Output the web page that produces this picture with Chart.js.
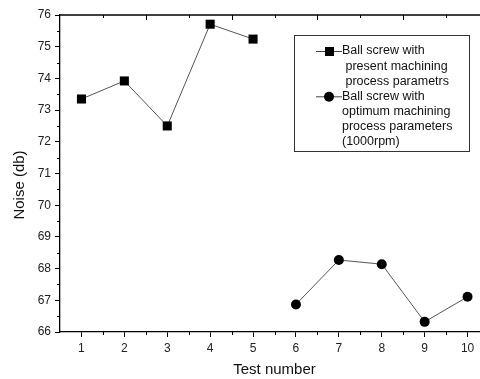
<!DOCTYPE html>
<html>
<head>
<meta charset="utf-8">
<script src="https://cdn.jsdelivr.net/npm/chart.js@4/dist/chart.umd.min.js"></script>
<style>
  html, body { margin: 0; padding: 0; background: #fff; overflow: hidden; }
  #wrap { width: 500px; height: 379px; }
</style>
</head>
<body>
<div id="wrap"><canvas id="chart" width="500" height="379"></canvas></div>
<script>
// data
var presentTests = [1, 2, 3, 4, 5];
var presentNoise = [73.35, 73.92, 72.50, 75.71, 75.24];
var optimumTests = [6, 7, 8, 9, 10];
var optimumNoise = [66.87, 68.27, 68.14, 66.32, 67.11];
var legendPresent = ['Ball screw with', ' present machining', ' process parametrs'];
var legendOptimum = ['Ball screw with', 'optimum machining', 'process parameters', '(1000rpm)'];
var yTitle = 'Noise (db)';

function toPoints(xs, ys) {
  var pts = [];
  for (var i = 0; i < xs.length; i++) {
    pts.push({x: xs[i], y: ys[i]});
  }
  return pts;
}

var FONT = '"Liberation Sans", Arial, sans-serif';

// minor ticks, top frame, y title and the legend box
var extras = {
  id: 'extras',
  afterDraw: function (chart) {
    var ctx = chart.ctx;
    var xs = chart.scales.x, ys = chart.scales.y;
    var a = chart.chartArea;
    ctx.save();
    ctx.strokeStyle = '#000';
    ctx.lineWidth = 1.3;
    // top frame line
    ctx.beginPath();
    ctx.moveTo(a.left, a.top);
    ctx.lineTo(a.right, a.top);
    ctx.stroke();
    ctx.lineWidth = 1;
    ctx.beginPath();
    // bottom minor ticks
    for (var v = 1.5; v < 10.5; v += 1) {
      var px = Math.round(xs.getPixelForValue(v)) + 0.5;
      ctx.moveTo(px, a.bottom);
      ctx.lineTo(px, a.bottom + 3);
    }
    // left minor ticks
    for (var w = 66.5; w < 76; w += 1) {
      var py = Math.round(ys.getPixelForValue(w)) + 0.5;
      ctx.moveTo(a.left, py);
      ctx.lineTo(a.left - 3, py);
    }
    // top ticks
    for (var t = 1.5; t < 10.5; t += 1) {
      var tx = Math.round(xs.getPixelForValue(t)) + 0.5;
      var len = (Math.round(t - 0.5) % 2 === 0) ? 5 : 3;
      ctx.moveTo(tx, a.top);
      ctx.lineTo(tx, a.top + len);
    }
    ctx.stroke();

    // y axis title
    ctx.save();
    ctx.translate(20, 185);
    ctx.rotate(-Math.PI / 2);
    ctx.font = '15px ' + FONT;
    ctx.fillStyle = '#111';
    ctx.textAlign = 'center';
    ctx.textBaseline = 'middle';
    ctx.fillText(yTitle, 0, 0);
    ctx.restore();

    // legend
    var bx = 294, by = 35, bw = 175, bh = 116;
    ctx.strokeStyle = '#333';
    ctx.lineWidth = 1;
    ctx.strokeRect(bx + 0.5, by + 0.5, bw, bh);
    ctx.font = '12.5px ' + FONT;
    ctx.fillStyle = '#111';
    ctx.textBaseline = 'middle';
    ctx.textAlign = 'left';
    var lh = 15.1;
    var y0 = 51;
    function sample(y, isRect) {
      ctx.strokeStyle = '#444';
      ctx.lineWidth = 1;
      ctx.beginPath();
      ctx.moveTo(316, y + 0.5);
      ctx.lineTo(342, y + 0.5);
      ctx.stroke();
      ctx.fillStyle = '#000';
      if (isRect) {
        ctx.fillRect(325, y - 4, 9, 9);
      } else {
        ctx.beginPath();
        ctx.arc(329, y + 0.5, 5, 0, Math.PI * 2);
        ctx.fill();
      }
      ctx.fillStyle = '#111';
    }
    sample(y0, true);
    for (var i = 0; i < legendPresent.length; i++) {
      ctx.fillText(legendPresent[i], 342, y0 + i * lh);
    }
    var y1 = y0 + 3 * lh;
    sample(y1, false);
    for (var j = 0; j < legendOptimum.length; j++) {
      ctx.fillText(legendOptimum[j], 342, y1 + j * lh);
    }
    ctx.restore();
  }
};

var statChart = new Chart(document.getElementById('chart'), {
  type: 'line',
  data: {
    datasets: [{
      label: 'Ball screw with present machining process parametrs',
      data: toPoints(presentTests, presentNoise),
      borderColor: '#555',
      borderWidth: 1,
      backgroundColor: '#000',
      pointStyle: 'rect',
      pointRadius: 6.4,
      pointBorderWidth: 0,
      pointBackgroundColor: '#000',
      tension: 0
    }, {
      label: 'Ball screw with optimum machining process parameters (1000rpm)',
      data: toPoints(optimumTests, optimumNoise),
      borderColor: '#555',
      borderWidth: 1,
      backgroundColor: '#000',
      pointStyle: 'circle',
      pointRadius: 5,
      pointBorderWidth: 0,
      pointBackgroundColor: '#000',
      tension: 0
    }]
  },
  options: {
    responsive: false,
    animation: false,
    layout: { padding: { top: 15, right: 11, left: 0, bottom: 0 } },
    plugins: {
      legend: { display: false },
      tooltip: { enabled: false }
    },
    scales: {
      x: {
        type: 'linear',
        min: 0.5,
        max: 10.5,
        afterFit: function (s) { s.height = 47; },
        afterBuildTicks: function (s) {
          var t = [];
          for (var i = 1; i <= 10; i++) t.push({value: i});
          s.ticks = t;
        },
        grid: { drawOnChartArea: false, tickLength: 5, color: '#000', tickWidth: 1 },
        border: { color: '#000', width: 1.3 },
        ticks: { color: '#222', font: { family: FONT, size: 12 }, padding: 4, maxRotation: 0 },
        title: { display: true, text: 'Test number', color: '#111', font: { family: FONT, size: 15 }, padding: 0 }
      },
      y: {
        min: 66,
        max: 76,
        afterFit: function (s) { s.width = 60; },
        grid: { drawOnChartArea: false, tickLength: 5, color: '#000', tickWidth: 1 },
        border: { color: '#000', width: 1.3 },
        ticks: { stepSize: 1, color: '#222', font: { family: FONT, size: 12 }, padding: 4 },
        title: { display: false }
      }
    }
  },
  plugins: [extras]
});
</script>
</body>
</html>
